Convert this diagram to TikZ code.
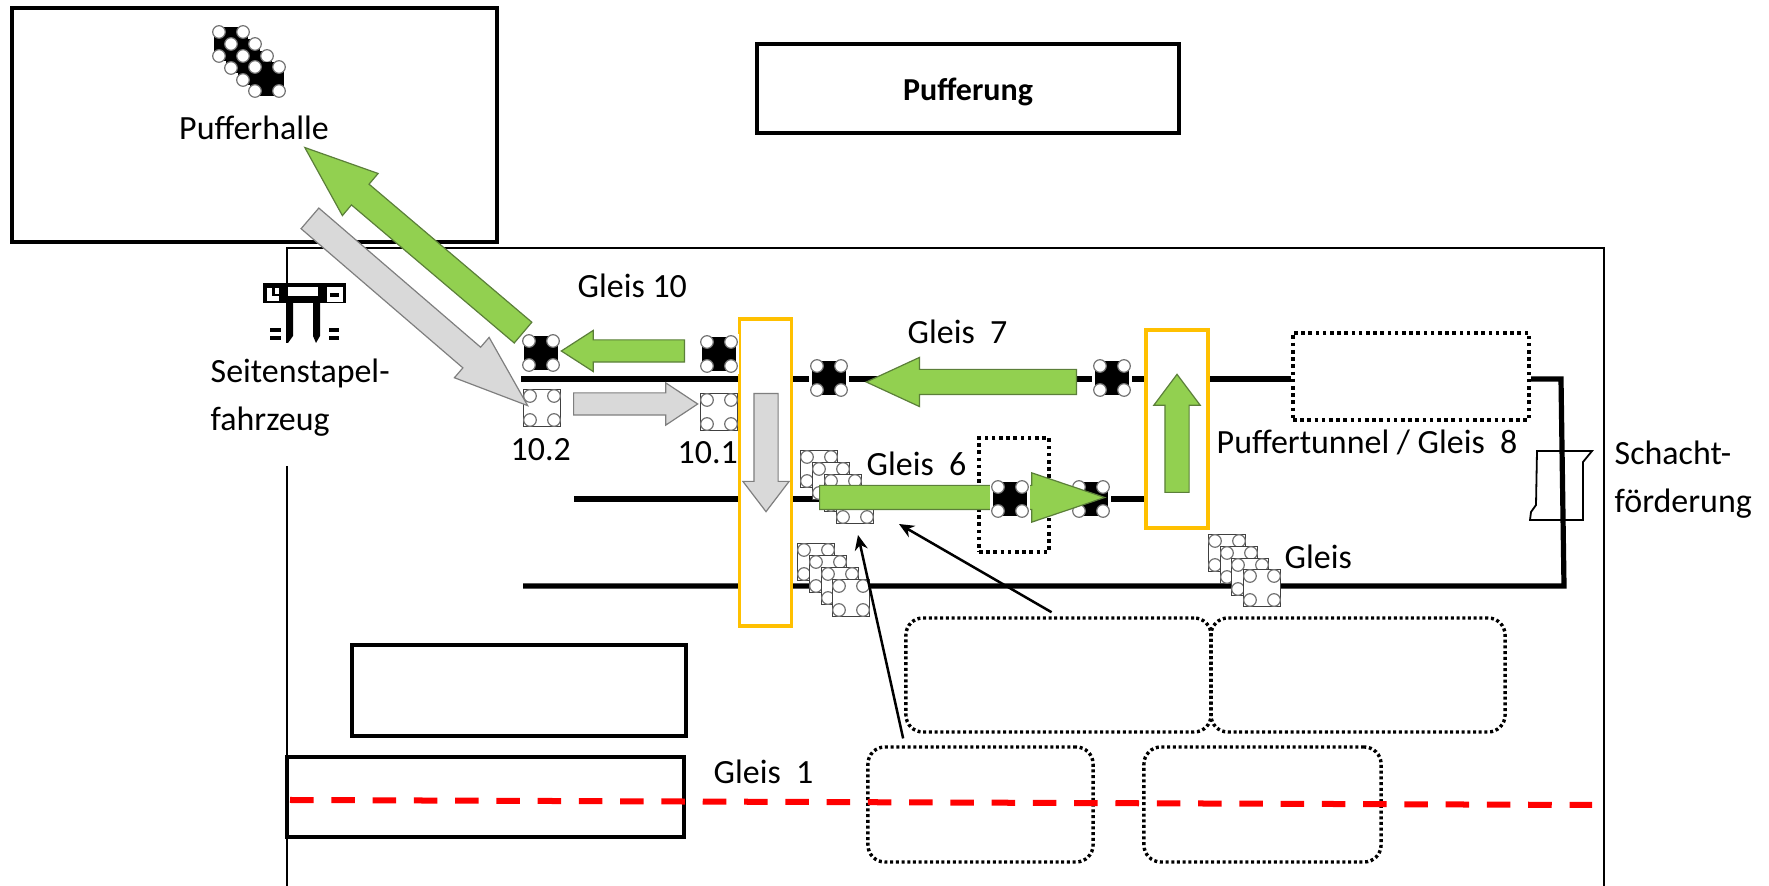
\documentclass[tikz,border=0pt]{standalone}
\usepackage{fontspec}
\setmainfont{Carlito}
\usepackage{xcolor}
\usetikzlibrary{arrows.meta, shapes.arrows, positioning}
\definecolor{arrowgreen}{HTML}{92D050}
\definecolor{arrowgreenline}{HTML}{5B7F39}
\definecolor{arrowgray}{HTML}{D9D9D9}
\definecolor{arrowgrayline}{HTML}{7F7F7F}
\definecolor{switchyellow}{HTML}{FFC000}
\begin{document}
\begin{tikzpicture}[
      x=0.01cm, y=-0.01cm,
      every node/.style={font=\fontsize{9.65}{13.65}\selectfont, inner sep=0pt},
      box/.style={draw, line width=0.035cm, minimum width=#1},
      dotbox/.style={draw, line width=0.042cm, dash pattern=on 0.036cm off 0.036cm},
      roundbox/.style={draw, line width=0.034cm, dash pattern=on 0.03cm off 0.027cm, rounded corners=0.17cm},
      switchbox/.style={draw=switchyellow, fill=white, line width=0.035cm},
      track/.style={line width=0.052cm},
      frame/.style={line width=0.029cm},
      arrow/.style={-{Stealth[length=0.15cm, width=0.13cm]}, line width=0.025cm},
      label/.style={anchor=base west},
      bigarrow/.style n args={4}{single arrow, draw, line width=0.012cm, anchor=tail, minimum height=#1,
        text height=#2, text depth=0pt, text width=0pt,
        single arrow head extend=#3, single arrow tip angle=#4},
      greenarrow/.style={fill=arrowgreen, draw=arrowgreenline},
      grayarrow/.style={fill=arrowgray, draw=arrowgrayline},
      wheel/.style={draw=black!55, fill=white, line width=0.012cm},
      blackwagon/.pic={
        \node[fill=black, minimum size=0.34cm] (-box) {};
        \foreach \dx/\dy in {-12/-12, 12/-12, -12/12, 12/12}
          \draw[wheel] (\dx,\dy) circle[radius=6.3];
      },
      railwagon/.pic={
        \node[fill=white, minimum size=0.4cm] (-halo) {};
        \pic (-wagon) {blackwagon};
      },
      whitewagon/.pic={
        \node[draw=black!75, fill=white, line width=0.012cm, minimum size=0.37cm] (-box) {};
        \foreach \dx/\dy in {-12/-12, 12/-12, -12/12, 12/12}
          \draw[wheel] (\dx,\dy) circle[radius=6.3];
      }
    ]
      \useasboundingbox (0,0) rectangle (1769,886);

      \node[box=4.85cm, minimum height=2.34cm] (hall) at (254.5,125) {};
      \node[box=4.22cm, minimum height=0.89cm] (buffering) at (968,88.5) {};
      \node[font=\fontsize{9.1}{11}\selectfont\bfseries] (bufferingLabel) at (968,92) {Pufferung};
      \node[box=3.34cm, minimum height=0.91cm] (upperhouse) at (519,690.5) {};
      \node[box=3.97cm, minimum height=0.80cm] (lowerhouse) at (485.5,797) {};
      \node[dotbox, minimum width=2.36cm, minimum height=0.87cm] (tunnel) at (1411,376.5) {};
      \node[dotbox, minimum width=0.70cm, minimum height=1.14cm] (gate) at (1014,495) {};
      \node[roundbox, minimum width=3.05cm, minimum height=1.14cm] (areaA) at (1058.5,675) {};
      \node[roundbox, minimum width=2.94cm, minimum height=1.14cm] (areaB) at (1358,675) {};
      \node[roundbox, minimum width=2.25cm, minimum height=1.15cm] (areaC) at (980.5,804.5) {};
      \node[roundbox, minimum width=2.37cm, minimum height=1.15cm] (areaD) at (1262.5,804.5) {};

      \coordinate (frameA) at (287,290);
      \coordinate (frameB) at (287,248);
      \coordinate (frameC) at (1604,248);
      \coordinate (frameD) at (1604,886);
      \coordinate (frameE) at (287,466);
      \coordinate (frameF) at (287,886);
      \draw[frame] (frameA) -- (frameB) -- (frameC) -- (frameD);
      \draw[frame] (frameE) -- (frameF);

      \coordinate (track7) at (521,379);
      \coordinate (track6) at (574,499);
      \coordinate (track6end) at (1146,499);
      \coordinate (track3) at (523,586);
      \coordinate (bendA) at (1561,379);
      \coordinate (bendB) at (1564,586);
      \draw[track] (track7) -- (track7 -| tunnel.west);
      \draw[track] (track7 -| tunnel.east) -- (bendA) -- (bendB) -- (track3);
      \draw[track] (track6) -- (track6end);

      \coordinate (redA) at (290,800);
      \coordinate (redB) at (1592,805);
      \draw[red, line width=0.06cm, dash pattern=on 0.235cm off 0.1775cm] (redA) -- (redB);

      \node[switchbox, minimum width=0.52cm, minimum height=3.07cm] (switchA) at (765.5,472.5) {};
      \node[switchbox, minimum width=0.62cm, minimum height=1.98cm] (switchB) at (1177,429) {};

      \draw[line width=0.018cm] (1537,451) -- (1592,451) -- (1583,462) -- (1583,520) -- (1530,520) -- (1531,512) -- (1536,505) -- cycle;

      \fill (263,283) rectangle (346,303);
      \fill[white] (267,288) rectangle (279,301);
      \fill (272,288) rectangle (275,294);
      \fill (272,294) rectangle (279,296);
      \fill[white] (288,287) rectangle (318,296);
      \fill[white] (327,287) rectangle (343,302);
      \fill (330,293) rectangle (339,297);
      \fill (286,303) -- (293,303) -- (293,336) -- (288,343) -- (286,343) -- cycle;
      \fill (313,303) -- (320,303) -- (320,336) -- (316,343) -- (313,336) -- cycle;
      \foreach \y in {328,336} {
        \fill (270,\y) rectangle ++(11,4);
        \fill (329,\y) rectangle ++(10,4);
      }

      \foreach \x/\y [count=\i] in {231/44, 243/56, 255/68, 267/79}
        \pic (black\i) at (\x,\y) {blackwagon};
      \foreach \x/\y [count=\i] in {541/353, 719/354, 829/378, 1112/378, 1091/499}
        \pic (rail\i) at (\x,\y) {railwagon};
      \foreach \x/\y [count=\i] in {542/408, 719/412, 819/469, 831/481, 843/493, 855/505, 816/562, 828/574, 840/586, 851/598, 1227/553, 1239/565, 1250/577, 1262/588}
        \pic (white\i) at (\x,\y) {whitewagon};

      \node[bigarrow={2.86cm}{0.26cm}{0.14cm}{41.6}, greenarrow, rotate=139.7] (toHall) at (523.5,333) {};
      \node[bigarrow={2.87cm}{0.26cm}{0.13cm}{39.7}, grayarrow, rotate=-40.7] (fromHall) at (309.5,218) {};
      \node[bigarrow={1.23cm}{0.21cm}{0.095cm}{65.6}, greenarrow, rotate=180] (toTen) at (685,351) {};
      \node[bigarrow={1.24cm}{0.21cm}{0.10cm}{67}, grayarrow] (toTenOne) at (573,404) {};
      \node[bigarrow={2.10cm}{0.24cm}{0.12cm}{49.6}, greenarrow, rotate=180] (alongSeven) at (1077,382) {};
      \node[bigarrow={1.18cm}{0.23cm}{0.11cm}{74.7}, grayarrow, rotate=-90] (downSwitch) at (766,393) {};
      \node[bigarrow={1.18cm}{0.23cm}{0.11cm}{73.7}, greenarrow, rotate=90] (upSwitch) at (1177,493) {};
      \node[bigarrow={2.85cm}{0.23cm}{0.125cm}{37.3}, greenarrow] (alongSix) at (819,497.5) {};
      \pic (rail6) at (1010,499) {railwagon};

      \coordinate (tipA) at (899,524);
      \coordinate (tipB) at (858,535);
      \draw[arrow, shorten <=0.08cm] (areaA.north) -- (tipA);
      \draw[arrow, shorten <=0.07cm] (areaC.142) -- (tipB);

      \node[anchor=base] (hallLabel) at (254,140) {Pufferhalle};
      \node[label] (gleisTen) at (577,298) {Gleis 10};
      \node[label] (gleisSeven) at (907,344) {Gleis~~7};
      \node[label] (gleisSix) at (866,476) {Gleis~~6};
      \node[label] (gleisEight) at (1216,454) {Puffertunnel / Gleis~~8};
      \node[label] (gleisLow) at (1284,569) {Gleis};
      \node[label] (gleisOne) at (713,784) {Gleis~~1};
      \node[label] (labelTwo) at (510,461) {10.2};
      \node[label] (labelOne) at (677,464) {10.1};
      \node[align=left, anchor=west] (vehicle) at (210,398) {Seitenstapel-\\fahrzeug};
      \node[align=left, anchor=west] (shaft) at (1614,480) {Schacht-\\förderung};
    \end{tikzpicture}
\end{document}
